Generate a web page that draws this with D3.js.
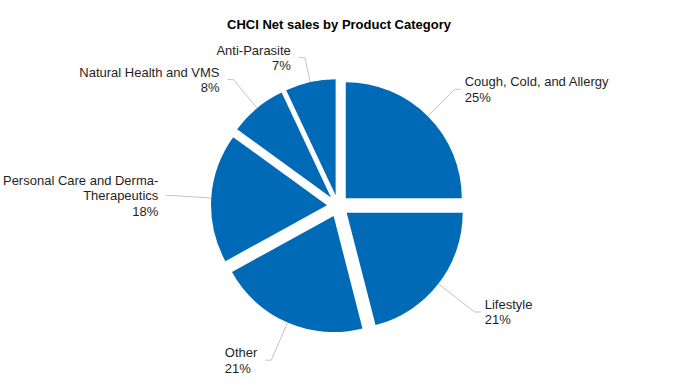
<!DOCTYPE html>
<html>
<head>
<meta charset="utf-8">
<script src="https://cdn.jsdelivr.net/npm/d3@7"></script>
<style>
  body { margin: 0; background: #fff; }
  text { font-family: "Liberation Sans", Arial, sans-serif; }
</style>
</head>
<body>
<div id="chart"></div>
<script>
// chart data
var categories = [
  "Cough, Cold, and Allergy",
  "Lifestyle",
  "Other",
  "Personal Care and Derma-\nTherapeutics",
  "Natural Health and VMS",
  "Anti-Parasite"
];
var shares = [25, 21, 21, 18, 8, 7];

// layout
var width = 677,
  height = 388,
  cx = 338,
  cy = 206,
  radius = 116,
  explode = 11,
  lineHeight = 15.5;

// how far out each label's elbow sits (Excel nudges them a bit)
var labelDist = [165, 173, 168, 166, 164, 152];
// bottom label keeps its lines left-aligned
var leftAligned = [false, false, true, false, false, false];

var svg = d3
  .select("#chart")
  .append("svg")
  .attr("width", width)
  .attr("height", height);

// title
svg
  .append("text")
  .attr("x", 339)
  .attr("y", 29)
  .attr("text-anchor", "middle")
  .style("font-size", "13px")
  .style("font-weight", "bold")
  .style("fill", "#000")
  .text("CHCI Net sales by Product Category");

var pie = d3.pie().sort(null).value(function (d) { return d; });
var data_ready = pie(shares);

var arcGenerator = d3.arc().innerRadius(0).outerRadius(radius);
var arcEdge = d3.arc().innerRadius(radius).outerRadius(radius);

function midAngle(d) {
  return (d.startAngle + d.endAngle) / 2;
}

// exploded offset for each slice
function shift(d, r) {
  var a = midAngle(d);
  return [Math.sin(a) * r, -Math.cos(a) * r];
}

var g = svg.append("g").attr("transform", "translate(" + cx + "," + cy + ")");

// slices
g.selectAll("path.slice")
  .data(data_ready)
  .enter()
  .append("path")
  .attr("class", "slice")
  .attr("d", arcGenerator)
  .attr("fill", "#006ab7")
  .attr("transform", function (d) {
    return "translate(" + shift(d, explode) + ")";
  });

// labels with leader lines
data_ready.forEach(function (d, i) {
  var a = midAngle(d);
  var off = shift(d, explode);
  var c = arcEdge.centroid(d);
  var start = [c[0] + off[0], c[1] + off[1]];
  var elbow = shift(d, labelDist[i]);
  var right = Math.sin(a) > 0;
  var dir = right ? 1 : -1;
  var lineEnd = [elbow[0] + dir * 6, elbow[1]];

  g.append("polyline")
    .attr("points", [start, elbow, lineEnd].map(function (p) { return p.join(","); }).join(" "))
    .attr("fill", "none")
    .attr("stroke", "#c4c4c4")
    .attr("stroke-width", 1);

  var lines = categories[i].split("\n").concat([shares[i] + "%"]);
  var tx = lineEnd[0] + dir * (right ? 4 : 8);
  var y0 = elbow[1] - ((lines.length - 1) * lineHeight) / 2 + 4.7;

  var t = g.append("text")
    .style("font-size", "13px")
    .style("fill", "#1f1f1f")
    .attr("text-anchor", right ? "start" : "end");

  lines.forEach(function (s, k) {
    t.append("tspan")
      .attr("x", tx)
      .attr("y", y0 + k * lineHeight)
      .text(s);
  });

  if (leftAligned[i] && !right) {
    // find the widest line, then anchor every line at its left edge
    var w = 0;
    t.selectAll("tspan").each(function () {
      w = Math.max(w, this.getComputedTextLength());
    });
    t.attr("text-anchor", "start");
    t.selectAll("tspan").attr("x", tx - w);
  }
});
</script>
</body>
</html>
